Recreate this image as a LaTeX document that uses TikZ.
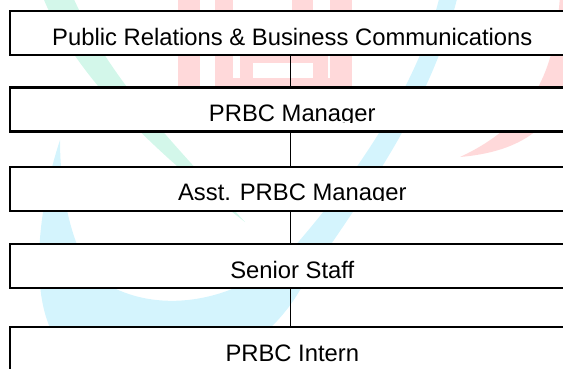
\documentclass[tikz,border=0pt]{standalone}
\usepackage{fontspec}
\setmainfont{Liberation Sans}
\definecolor{wgreen}{HTML}{D3F7EA}
\definecolor{wred}{HTML}{FFD9DA}
\definecolor{wcyan}{HTML}{D4F4FD}
\begin{document}
\begin{tikzpicture}[x=1pt,y=-1pt,
  box/.style={draw=black, line width=2.4pt, fill=white, rectangle,
    minimum width=565pt, minimum height=44pt, inner sep=0pt},
  lbl/.style={anchor=base, inner sep=0pt, font=\fontsize{23.8pt}{28pt}\selectfont},
  link/.style={draw=black, line width=1pt},
  wmgreen/.style={fill=wgreen},
  wmred/.style={fill=wred},
  wmcyan/.style={fill=wcyan}]
\useasboundingbox (0,0) rectangle (563,368);
\clip (0,0) rectangle (563,368);
% faint background marks
\fill[wmgreen] (42,-5) .. controls (60,40) and (100,110) .. (245,222)
  .. controls (170,140) and (110,80) .. (72,-5) -- cycle;
\fill[wmred] (178,-5) rectangle (200,90);
\fill[wmred] (215,-5) rectangle (233,90);
\fill[wmred] (292,-5) rectangle (313,63);
\fill[wmred] (330,-5) rectangle (352,90);
\fill[wmred] (215,78) rectangle (352,86);
\fill[wmred] (240,55) rectangle (253,78);
\fill[wmred] (253,55) rectangle (313,63);
\fill[wmred] (313,55) rectangle (328,78);
\fill[wmred] (560,-5) .. controls (556,60) and (540,120) .. (460,157)
  .. controls (540,150) and (580,110) .. (585,-5) -- cycle;
\fill[wmcyan] (60,140) .. controls (40,200) and (25,300) .. (60,345)
  .. controls (150,420) and (260,360) .. (300,290)
  .. controls (360,200) and (430,110) .. (458,-5) -- (440,-5)
  .. controls (420,80) and (360,170) .. (300,240)
  .. controls (250,300) and (160,320) .. (100,280)
  .. controls (75,260) and (60,200) .. (60,140) -- cycle;
% boxes
\coordinate (axis) at (290,0);
\node[box] (b1) at (292.5,33) {};
\node[box] (b2) at (292.5,109.5) {};
\node[box] (b3) at (292.5,189) {};
\node[box] (b4) at (292.5,266) {};
\node[box] (b5) at (292.5,349) {};
\draw[link] (b1.south -| axis) -- (b2.north -| axis);
\draw[link] (b2.south -| axis) -- (b3.north -| axis);
\draw[link] (b3.south -| axis) -- (b4.north -| axis);
\draw[link] (b4.south -| axis) -- (b5.north -| axis);
% labels (clipped at the baseline, as in the reference)
\begin{scope}
\clip (12,12) rectangle (575,45.6);
\node[lbl] (t1) at (292.3,45) {Public Relations \& Business Communications};
\end{scope}
\begin{scope}
\clip (12,89) rectangle (575,122.2);
\node[lbl] (t2) at (292.3,121.7) {PRBC Manager};
\end{scope}
\begin{scope}
\clip (12,168) rectangle (575,200.5);
\node[lbl] (t3) at (292.3,200) {Asst. PRBC Manager};
\end{scope}
\begin{scope}
\clip (12,245) rectangle (575,278.6);
\node[lbl] (t4) at (292.3,278) {Senior Staff};
\end{scope}
\begin{scope}
\clip (12,328) rectangle (575,362.2);
\node[lbl] (t5) at (292.3,361.7) {PRBC Intern};
\end{scope}
\end{tikzpicture}
\end{document}
